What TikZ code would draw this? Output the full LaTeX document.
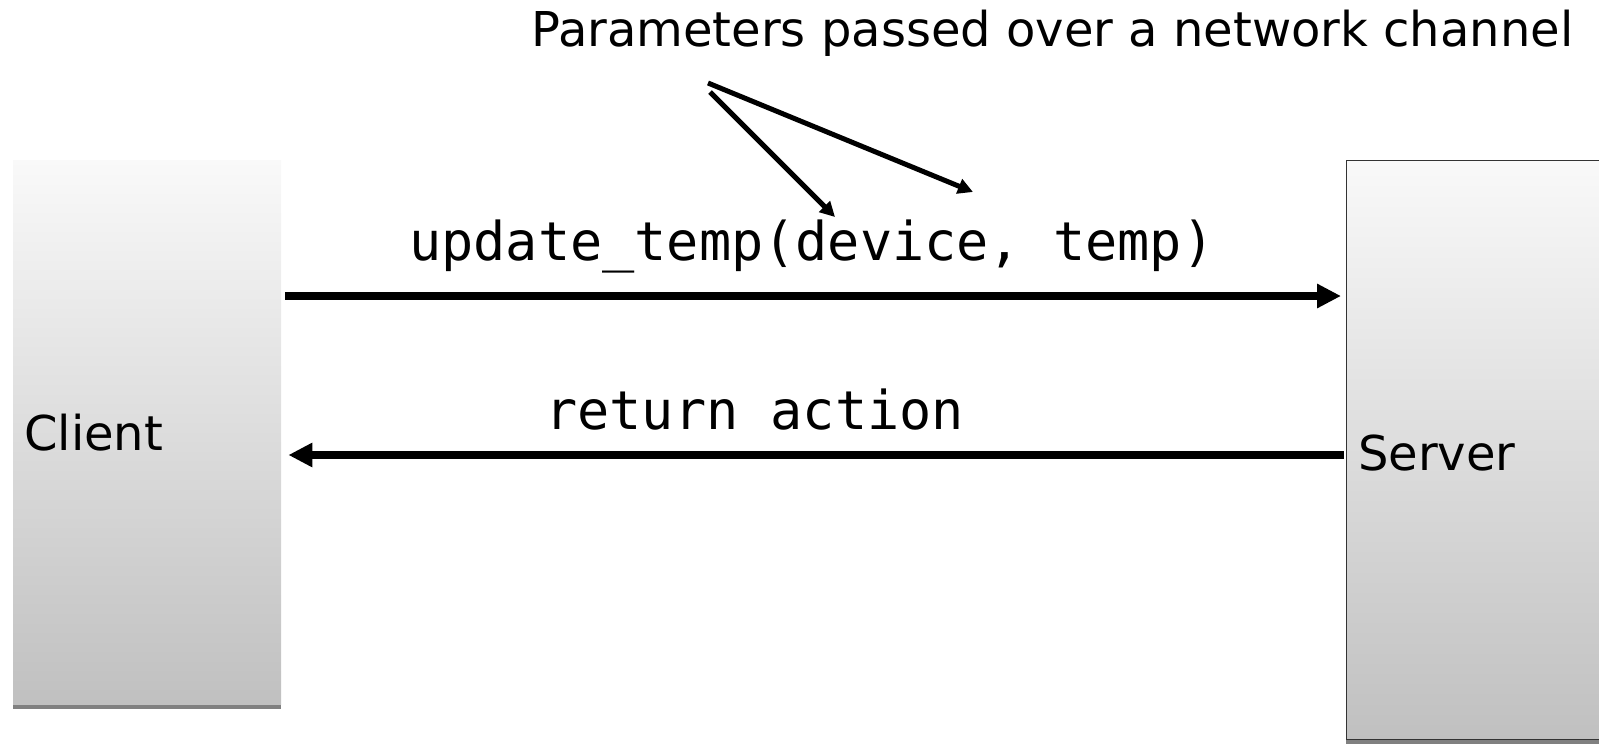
\documentclass[tikz,border=0pt]{standalone}
\usepackage{fontspec}
\setmainfont{DejaVu Sans}
\setmonofont{DejaVu Sans Mono}
\usetikzlibrary{arrows.meta}

\definecolor{boxtop}{HTML}{F9F9F9}
\definecolor{boxbottom}{HTML}{C0C0C0}
\definecolor{boxshadow}{HTML}{808080}
\definecolor{boxedge}{HTML}{333333}

\tikzset{
  panel/.style={top color=boxtop, bottom color=boxbottom, draw=none},
  shadowband/.style={fill=boxshadow, draw=none},
  label/.style={inner sep=0pt, anchor=base west},
  call/.style={line width=8pt, -{Triangle[length=24pt,width=23pt]}},
  pointer/.style={line width=5pt, -{Triangle[length=15pt,width=15pt]}}
}

\begin{document}
\begin{tikzpicture}[x=1pt, y=-1pt]
  \path[use as bounding box] (0,0) rectangle (1599,744);
  \clip (0,0) rectangle (1599,744);

  % client column
  \fill[shadowband] (13,704) rectangle (281,709);
  \node[panel, minimum width=268pt, minimum height=544pt, inner sep=0pt, anchor=north west]
    (client) at (13,160) {};
  \node[label, font=\fontsize{48}{52}\selectfont] (clientlabel) at (24,450) {Client};

  % server column
  \fill[shadowband] (1346,739) rectangle (1610,744);
  \node[panel, draw=boxedge, line width=1.2pt, minimum width=264pt, minimum height=579pt,
        inner sep=0pt, anchor=north west] (server) at (1346,160) {};
  \node[label, font=\fontsize{48}{52}\selectfont] (serverlabel) at (1358,470) {Server};

  % messages
  \coordinate (reqS) at ([xshift=4pt]client.east |- 0,296);
  \coordinate (reqE) at ([xshift=-5pt]server.west |- 0,296);
  \coordinate (repS) at ([xshift=-2pt]server.west |- 0,455);
  \coordinate (repE) at ([xshift=7pt]client.east |- 0,455);
  \draw[call] (reqS) -- (reqE);
  \draw[call] (repS) -- (repE);

  \node[label, font=\ttfamily\fontsize{53.5}{58}\selectfont] (req) at (409,260)
    {update\_temp(device, temp)};
  \node[label, font=\ttfamily\fontsize{53.5}{58}\selectfont] (rep) at (545,429)
    {return action};

  % annotation
  \node[label, font=\fontsize{48}{52}\selectfont] (note) at (531,46)
    {Parameters passed over a network channel};
  \coordinate (noteA) at (708,83);
  \coordinate (noteB) at (710,92);
  \coordinate (tempArg) at (973,192);
  \coordinate (deviceArg) at (835,217);
  \draw[pointer] (noteA) -- (tempArg);
  \draw[pointer] (noteB) -- (deviceArg);
\end{tikzpicture}
\end{document}
